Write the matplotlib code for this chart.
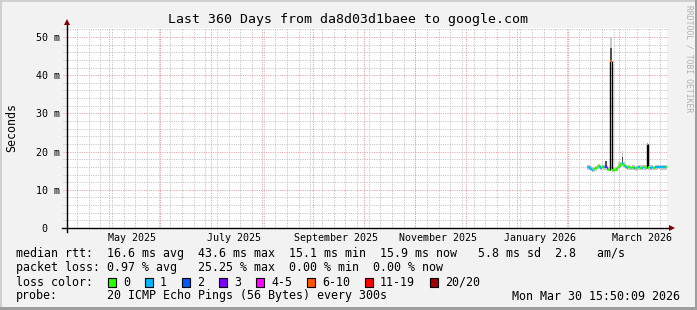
import numpy as np
import matplotlib
matplotlib.use("Agg")
import matplotlib.pyplot as plt
from matplotlib.patches import Rectangle

W, H = 697, 310
MONO = "DejaVu Sans Mono"
plt.rcParams['font.family'] = MONO

title = "Last 360 Days from da8d03d1baee to google.com"

# x axis runs in days since the start of the 360 day window
month_labels = ["May 2025", "July 2025", "September 2025",
                "November 2025", "January 2026", "March 2026"]
month_label_pos = [39.3, 100.5, 161.7, 222.9, 284.1, 345.3]
month_lines = [25.7, 56.3, 86.9, 117.5, 148.1, 178.7, 209.3, 239.9, 270.5, 301.1, 331.7]

ytick_vals = [0, 10, 20, 30, 40, 50]
ytick_labels = ["0  ", "10 m", "20 m", "30 m", "40 m", "50 m"]

# one sample per day, only the last ~7 weeks have data (values in ms)
days = np.arange(312, 360)
median = [16.0, 15.9, 15.5, 15.2, 15.4, 15.6, 15.9, 16.2, 15.8, 16.1,
          15.9, 16.0, 15.6, 15.2, 43.6, 15.1, 15.1, 15.2, 15.6, 16.0,
          16.7, 17.0, 16.6, 16.0, 15.8, 15.9, 15.7, 15.9, 15.8, 15.6,
          15.8, 15.9, 15.7, 15.8, 15.9, 15.8, 22.0, 15.9, 15.8, 15.9,
          15.7, 15.9, 15.9, 16.0, 15.9, 15.9, 15.9, 15.9]
loss = [0, 1, 1, 1, 0, 0, 0, 0, 1, 0,
        1, 3, 2, 0, 5, 0, 0, 0, 0, 0,
        0, 1, 0, 1, 1, 0, 0, 0, 1, 0,
        0, 1, 0, 1, 0, 0, 0, 0, 1, 1,
        0, 1, 1, 1, 1, 1, 1, 0]
smoke_lo = [15.3, 15.2, 14.8, 14.6, 14.7, 15.0, 15.2, 15.4, 15.1, 15.4,
            15.2, 15.3, 15.0, 14.8, 43.6, 14.7, 14.7, 14.8, 15.0, 15.4,
            16.0, 16.2, 15.9, 15.4, 15.2, 15.3, 15.1, 15.3, 15.2, 15.0,
            15.2, 15.3, 15.1, 15.2, 15.3, 15.2, 15.6, 15.3, 15.2, 15.3,
            15.1, 15.3, 15.3, 15.4, 15.3, 15.3, 15.3, 15.3]
smoke_hi = [16.6, 16.4, 16.2, 16.0, 16.1, 16.3, 16.6, 16.8, 16.5, 16.7,
            16.6, 17.6, 16.4, 15.9, 50.0, 15.8, 15.8, 15.9, 16.3, 17.3,
            17.4, 20.2, 17.2, 16.6, 16.4, 16.5, 16.3, 16.5, 16.4, 16.3,
            16.4, 16.5, 16.4, 16.4, 16.5, 16.4, 22.3, 16.5, 16.4, 16.5,
            16.3, 16.5, 16.5, 16.6, 16.5, 16.5, 16.5, 16.5]
smoke_dark = [0, 0, 0, 0, 0, 0, 0, 0, 0, 0,
              0, 17.5, 0, 0, 47.0, 0, 0, 0, 0, 0,
              0, 18.5, 0, 0, 0, 0, 0, 0, 0, 0,
              0, 0, 0, 0, 0, 0, 0, 0, 0, 0,
              0, 0, 0, 0, 0, 0, 0, 0]

loss_names = ["0", "1", "2", "3", "4-5", "6-10", "11-19", "20/20"]
loss_colors = ["#26ff00", "#00b8ff", "#0059ff", "#7e00ff",
               "#ff00ff", "#ff5500", "#ff0000", "#a10000"]

legend_rtt = "median rtt:  16.6 ms avg  43.6 ms max  15.1 ms min  15.9 ms now   5.8 ms sd  2.8   am/s"
legend_loss = "packet loss: 0.97 % avg   25.25 % max  0.00 % min  0.00 % now"
probe_text = "20 ICMP Echo Pings (56 Bytes) every 300s"
stamp = "Mon Mar 30 15:50:09 2026"


def fx(x):
    return x / W


def fy(y):
    return 1 - y / H


fig = plt.figure(figsize=(W / 100, H / 100), dpi=100, facecolor="#f2f2f2")

# frame shading
fig.add_artist(Rectangle((0, fy(2)), 1, 2 / H, transform=fig.transFigure, color="#cfcfcf", lw=0))
fig.add_artist(Rectangle((0, 0), 2 / W, 1, transform=fig.transFigure, color="#cfcfcf", lw=0))
fig.add_artist(Rectangle((0, 0), 1, 3 / H, transform=fig.transFigure, color="#9e9e9e", lw=0))
fig.add_artist(Rectangle((fx(694.5), 0), 2.5 / W, 1, transform=fig.transFigure, color="#9e9e9e", lw=0))

ax = fig.add_axes([fx(66.5), fy(228), 600 / W, 200 / H])
ax.set_facecolor("white")
ax.set_xlim(0, 360)
ax.set_ylim(0, 52.36)
for s in ax.spines.values():
    s.set_visible(False)

# grid, 1px dots
minor_kw = dict(color="#c0c0c0", lw=0.72, dashes=(1, 1.3), snap=True, zorder=1)
major_kw = dict(color="#eb9a9a", lw=0.72, dashes=(1, 1.3), snap=True, zorder=1)
for y in np.arange(2, 53, 2):
    if y % 10:
        ax.axhline(y, xmin=-0.006, xmax=1, clip_on=False, **minor_kw)
for y in ytick_vals[1:]:
    ax.axhline(y, xmin=-0.006, xmax=1, clip_on=False, **major_kw)
for x in np.arange(6.3, 360, 7):
    ax.axvline(x, **minor_kw)
for x in month_lines:
    ax.axvline(x, **major_kw)

# smoke
lo = np.array(smoke_lo)
hi = np.array(smoke_hi)
med = np.array(median)
dark = np.array(smoke_dark)
ax.bar(days, hi - lo, bottom=lo, width=1, align="edge", color="#c8c8c8", lw=0, zorder=2)
dmask = dark > med
ax.bar(days[dmask], (dark - med)[dmask], bottom=med[dmask], width=1, align="edge",
       color="#505050", lw=0, zorder=3)

# median line, coloured by loss
for i in range(len(days) - 1):
    jump = med[i + 1] - med[i]
    c = "black" if abs(jump) > 2 else loss_colors[loss[i + 1]]
    ax.vlines(days[i + 1], min(med[i], med[i + 1]), max(med[i], med[i + 1]),
              color=c, lw=1.0 if c == "black" else 1.5, zorder=4)
ax.hlines(med, days, days + 1, colors=[loss_colors[l] for l in loss], lw=1.5, zorder=5)

# axes lines and arrows
ax.plot([-0.0075, 1.007], [0, 0], transform=ax.transAxes, color="black", lw=1.0,
        clip_on=False, zorder=6)
ax.plot([0, 0], [-0.02, 1.02], transform=ax.transAxes, color="black", lw=1.0,
        clip_on=False, zorder=6)
ax.plot([1.0095], [0], transform=ax.transAxes, marker=">", ms=4, color="#7f0000",
        mew=0, clip_on=False, zorder=7)
ax.plot([0], [1.03], transform=ax.transAxes, marker="^", ms=4, color="#7f0000",
        mew=0, clip_on=False, zorder=7)

ax.set_yticks(ytick_vals)
ax.set_yticklabels(ytick_labels, family=MONO, fontsize=7.2)
ax.set_xticks(month_label_pos)
ax.set_xticklabels(month_labels, family=MONO, fontsize=7.2)
ax.tick_params(axis="y", length=0, pad=4.7)
ax.tick_params(axis="x", length=0, pad=3.6)

# texts
fig.text(fx(347.5), fy(19), title, ha="center", va="center", fontsize=9.5)
fig.text(fx(12), fy(128), "Seconds", rotation=90, ha="center", va="center", fontsize=8.4)
fig.text(fx(688.5), fy(5), "RRDTOOL / TOBI OETIKER", rotation=270, ha="center", va="top",
         fontsize=5.8, color="#b0b0b0")

LEG = 8.4
fig.text(fx(16), fy(254), legend_rtt, ha="left", va="center", fontsize=LEG)
fig.text(fx(16), fy(268), legend_loss, ha="left", va="center", fontsize=LEG)
fig.text(fx(16), fy(282), "loss color:", ha="left", va="center", fontsize=LEG)
bx = 108
for name, col in zip(loss_names, loss_colors):
    fig.add_artist(Rectangle((fx(bx), fy(286.5)), 8 / W, 8.5 / H, transform=fig.transFigure,
                             facecolor=col, edgecolor="black", lw=0.8))
    fig.text(fx(bx + 15), fy(282), name, ha="left", va="center", fontsize=LEG)
    bx = bx + 15 + 7 * len(name) + 15
fig.text(fx(16), fy(296), "probe:", ha="left", va="center", fontsize=LEG)
fig.text(fx(107), fy(296), probe_text, ha="left", va="center", fontsize=LEG)
fig.text(fx(680), fy(296), stamp, ha="right", va="center", fontsize=LEG)

fig.savefig("out.png", dpi=100, facecolor=fig.get_facecolor())
